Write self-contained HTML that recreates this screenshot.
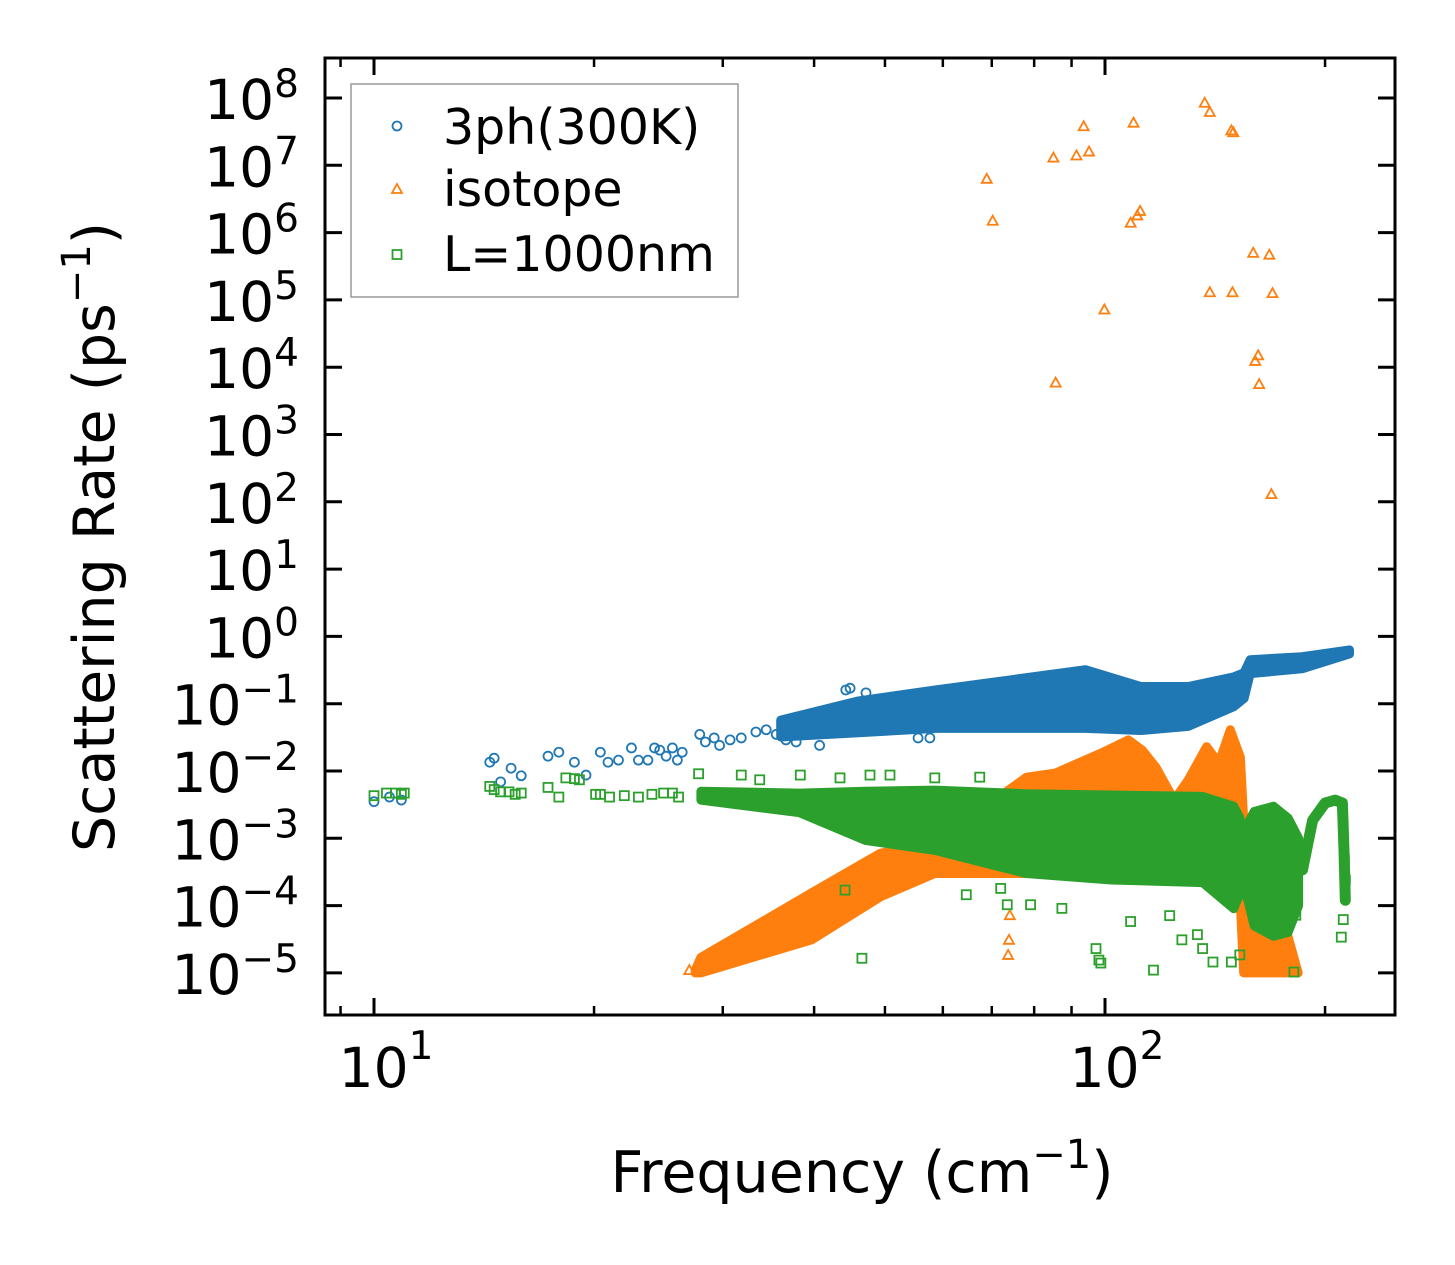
<!DOCTYPE html>
<html><head><meta charset="utf-8"><style>
html,body{margin:0;padding:0;background:#fff;}
svg{display:block;font-family:"DejaVu Sans","Liberation Sans",sans-serif;}
</style></head>
<body>
<svg id="chart" width="1455" height="1265" viewBox="0 0 1455 1265" xmlns="http://www.w3.org/2000/svg">
<rect width="1455" height="1265" fill="#fff"/>
<g id="marks"></g>
<g id="axes"></g>
<text x="862" y="1192" font-size="57" text-anchor="middle">Frequency (cm<tspan font-size="40" dy="-24">−1</tspan><tspan dy="24">)</tspan></text>
<text transform="translate(114,537) rotate(-90)" font-size="57" text-anchor="middle">Scattering Rate (ps<tspan font-size="40" dy="-24">−1</tspan><tspan dy="24">)</tspan></text>
<g>
<rect x="351" y="84" width="387" height="213" fill="#fff" stroke="#999" stroke-width="1.5"/>
<circle cx="397" cy="126" r="4.5" fill="none" stroke="#1f77b4" stroke-width="1.8"/>
<text x="443" y="144" font-size="49">3ph(300K)</text>
<path d="M397,184 L402,193 L392,193 Z" fill="none" stroke="#ff7f0e" stroke-width="1.8"/>
<text x="443" y="206" font-size="49">isotope</text>
<rect x="392.5" y="250" width="9" height="9" fill="none" stroke="#2ca02c" stroke-width="1.8"/>
<text x="443" y="271" font-size="49">L=1000nm</text>
</g>
</svg>
<script>
// ---- data (frequency in cm^-1, rate in ps^-1) ----
const blueBandFreq  = [36, 46, 58.6, 75, 94, 112, 130, 150, 155, 158, 186, 216];
const blueBandHigh  = [0.057, 0.11, 0.16, 0.23, 0.32, 0.18, 0.18, 0.25, 0.29, 0.45, 0.5, 0.63];
const blueBandLow   = [0.032, 0.037, 0.043, 0.043, 0.043, 0.04, 0.046, 0.09, 0.12, 0.28, 0.33, 0.55];
const bluePtFreq = [10,10.5,10.9,14.4,14.6,14.9,15.4,15.9,17.3,17.9,18.8,19.5,20.4,20.9,21.6,22.5,23.0,23.7,24.2,24.6,25.1,25.6,26.0,26.4,27.9,28.4,29.2,29.7,30.7,31.8,33.3,34.4,35.5,36.6,37.8,39.0,40.7,44.2,44.8,47.1,50.5,55.5,57.6];
const bluePtRate = [3.5e-3,4.1e-3,3.7e-3,0.0135,0.0155,6.9e-3,0.011,8.5e-3,0.0166,0.019,0.0135,8.7e-3,0.019,0.0135,0.0145,0.022,0.0145,0.0145,0.022,0.0204,0.0166,0.022,0.0145,0.019,0.035,0.027,0.031,0.024,0.029,0.031,0.038,0.041,0.035,0.029,0.027,0.05,0.024,0.16,0.17,0.145,0.075,0.031,0.031];

const orangeBandFreq = [27.5, 28, 39.7, 49.3, 58.5, 78.1, 85.5, 98.9, 107.6, 112.4, 117.4, 124.3, 130, 137.7, 143.1, 148.4, 153.2, 154.8, 159.9, 169.9, 176.9, 183.8];
const orangeBandHigh = [1.1e-5, 1.7e-5, 1.55e-4, 6.0e-4, 8.5e-4, 8.1e-3, 9.3e-3, 0.0186, 0.029, 0.0205, 0.0114, 3.7e-3, 7.4e-3, 0.023, 0.013, 0.041, 0.016, 1.85e-3, 5.5e-5, 9.5e-5, 4.4e-5, 1.0e-5];
const orangeBandLow  = [1.0e-5, 1.0e-5, 3.1e-5, 1.35e-4, 3.0e-4, 3.0e-4, 3.0e-4, 3.0e-4, 3.0e-4, 3.0e-4, 3.0e-4, 3.0e-4, 3.0e-4, 3.0e-4, 2.5e-4, 2.0e-4, 1.0e-4, 1.0e-5, 1.0e-5, 1.0e-5, 1.0e-5, 1.0e-5];
const orangePtFreq = [27.0,73.7,73.9,74.1,68.5,68.9,70.2,85.0,85.6,91.4,93.5,95.1,99.8,108.4,109.4,110.7,111.7,136.9,139.1,139.1,148.9,149.8,149.4,159.5,160.5,162,162.5,167.8,168.9,169.5];
const orangePtRate = [1.1e-5,1.85e-5,3.1e-5,7.2e-5,1.7e-3,6.3e6,1.5e6,1.3e7,5.9e3,1.4e7,3.8e7,1.6e7,7.2e4,1.4e6,4.3e7,1.8e6,2.1e6,8.5e7,6.2e7,1.3e5,3.3e7,3.1e7,1.3e5,5.0e5,1.24e4,1.5e4,5.6e3,4.7e5,1.3e2,1.26e5];

const greenBandFreq = [28, 38.2, 47, 58.5, 78, 102, 136, 150, 153];
const greenBandHigh = [5.0e-3, 4.7e-3, 5.0e-3, 5.2e-3, 4.6e-3, 4.4e-3, 4.2e-3, 3.0e-3, 2.0e-3];
const greenBandLow  = [3.7e-3, 2.4e-3, 9.3e-4, 6.6e-4, 3.0e-4, 2.4e-4, 2.2e-4, 9e-5, 1.5e-4];
const greenStripFreq = [156, 160, 170, 178, 184];
const greenStripHigh = [1.5e-3, 2.5e-3, 3.0e-3, 2.0e-3, 1.0e-3];
const greenStripLow  = [1.5e-4, 5e-5, 3.5e-5, 4e-5, 1e-4];
const greenArcFreq = [186.3, 192.3, 200, 206.4, 211.2, 212.5, 213.2];
const greenArcRate = [3.4e-4, 1.85e-3, 3.35e-3, 3.7e-3, 3.35e-3, 4.8e-4, 1.2e-4];
const greenPtFreq = [10,10.4,10.7,10.9,11.0,14.4,14.6,14.9,15.3,15.6,15.9,17.3,17.9,18.3,18.8,19.1,20.1,20.4,21.0,22.0,23.0,24.0,24.9,25.6,26.1,27.8,31.8,33.7,38.3,43.4,47.7,50.8,58.5,67.4,46.5,44.1,64.6,72.0,73.5,79.1,87.3,97.2,98.1,98.7,108.4,116.5,122.6,127.4,133.8,136.0,140.5,148.9,152.9,181.3,182.4,210.5,211.8,213.2,212.5];
const greenPtRate = [4.3e-3,4.7e-3,4.7e-3,4.5e-3,4.7e-3,5.9e-3,5.3e-3,4.9e-3,4.9e-3,4.5e-3,4.7e-3,5.7e-3,4.1e-3,7.9e-3,7.7e-3,7.4e-3,4.5e-3,4.5e-3,4.1e-3,4.3e-3,4.1e-3,4.5e-3,4.7e-3,4.7e-3,4.1e-3,9.1e-3,8.7e-3,7.4e-3,8.7e-3,7.9e-3,8.7e-3,8.7e-3,7.9e-3,8.1e-3,1.65e-5,1.7e-4,1.45e-4,1.8e-4,1.03e-4,1.03e-4,9.1e-5,2.3e-5,1.55e-5,1.4e-5,5.8e-5,1.1e-5,7.1e-5,3.1e-5,3.7e-5,2.3e-5,1.45e-5,1.45e-5,1.85e-5,1.03e-5,7.2e-5,3.4e-5,6.2e-5,2.4e-4,4.8e-4];

const yTickExp = [8,7,6,5,4,3,2,1,0,-1,-2,-3,-4,-5];
const xTickExp = [1,2];
const xMinorVals = [9,20,30,40,50,60,70,80,90,200];

// ---- axis functions ----
const X0=325, X1=1395, Y0=58, Y1=1015;
function xs(f){ return 374 + (Math.log10(f)-1)*731; }
function ys(v){ return 98 + (8-Math.log10(v))*67.3; }
const NS='http://www.w3.org/2000/svg';
const marks=document.getElementById('marks');
const axes=document.getElementById('axes');
function mk(tag,attrs,parent){ const e=document.createElementNS(NS,tag); for(const k in attrs) e.setAttribute(k,attrs[k]); parent.appendChild(e); return e; }

const clip=mk('clipPath',{id:'pc'},document.getElementById('chart'));
mk('rect',{x:X0,y:Y0,width:X1-X0,height:Y1-Y0},clip);
marks.setAttribute('clip-path','url(#pc)');

function band(fr,hi,lo,color,name){
  let pts=[];
  for(let i=0;i<fr.length;i++) pts.push(xs(fr[i]).toFixed(1)+','+ys(hi[i]).toFixed(1));
  for(let i=fr.length-1;i>=0;i--) pts.push(xs(fr[i]).toFixed(1)+','+ys(lo[i]).toFixed(1));
  const p=mk('polygon',{points:pts.join(' '),fill:color,stroke:color,'stroke-width':9,'stroke-linejoin':'round'},marks);
  
  
}
function circ(f,v,name){
  const c=mk('circle',{cx:xs(f),cy:ys(v),r:4.5,fill:'none',stroke:'#1f77b4','stroke-width':1.8},marks);
  
  
}
function tri(f,v,name){
  const x=xs(f), y=ys(v);
  const t=mk('path',{d:`M${x},${y-5} L${x+5},${y+4} L${x-5},${y+4} Z`,fill:'none',stroke:'#ff7f0e','stroke-width':1.8},marks);
  
  
}
function sq(f,v,name){
  const s=mk('rect',{x:xs(f)-4.5,y:ys(v)-4.5,width:9,height:9,fill:'none',stroke:'#2ca02c','stroke-width':1.8},marks);
  
  
}

band(blueBandFreq,blueBandHigh,blueBandLow,'#1f77b4','3ph-dense-band');
for(let i=0;i<bluePtFreq.length;i++) circ(bluePtFreq[i],bluePtRate[i],'3ph-point');
band(orangeBandFreq,orangeBandHigh,orangeBandLow,'#ff7f0e','isotope-dense-band');
for(let i=0;i<orangePtFreq.length;i++) tri(orangePtFreq[i],orangePtRate[i],'isotope-point');
band(greenBandFreq,greenBandHigh,greenBandLow,'#2ca02c','boundary-dense-band');
band(greenStripFreq,greenStripHigh,greenStripLow,'#2ca02c','boundary-dense-strip');
let arcPts=[];
for(let i=0;i<greenArcFreq.length;i++) arcPts.push(xs(greenArcFreq[i]).toFixed(1)+','+ys(greenArcRate[i]).toFixed(1));
const arc=mk('polyline',{points:arcPts.join(' '),fill:'none',stroke:'#2ca02c','stroke-width':11,'stroke-linejoin':'round','stroke-linecap':'round'},marks);


for(let i=0;i<greenPtFreq.length;i++) sq(greenPtFreq[i],greenPtRate[i],'boundary-point');

// ---- axes ----
const frame=mk('rect',{x:X0,y:Y0,width:X1-X0,height:Y1-Y0,fill:'none',stroke:'#000','stroke-width':3},axes);


yTickExp.forEach(e=>{
  const y=ys(Math.pow(10,e));
  const t1=mk('line',{x1:X0,x2:X0+17,y1:y,y2:y,stroke:'#000','stroke-width':3},axes);
  
  
  const t2=mk('line',{x1:X1,x2:X1-17,y1:y,y2:y,stroke:'#000','stroke-width':3},axes);
  
  
  const lab=mk('text',{x:299,y:y+21,'font-size':55,'text-anchor':'end'},axes);
  
  
  const a=document.createElementNS(NS,'tspan'); a.textContent='10'; lab.appendChild(a);
  const b=document.createElementNS(NS,'tspan'); b.setAttribute('font-size','39'); b.setAttribute('dy','-22'); b.textContent=(e<0?'−':'')+Math.abs(e); lab.appendChild(b);
});
xTickExp.forEach(e=>{
  const x=xs(Math.pow(10,e));
  const t1=mk('line',{x1:x,x2:x,y1:Y1,y2:Y1-17,stroke:'#000','stroke-width':3},axes);
  
  
  const t2=mk('line',{x1:x,x2:x,y1:Y0,y2:Y0+17,stroke:'#000','stroke-width':3},axes);
  
  
  const lab=mk('text',{x:x+12,y:1087,'font-size':55,'text-anchor':'middle'},axes);
  
  
  const a=document.createElementNS(NS,'tspan'); a.textContent='10'; lab.appendChild(a);
  const b=document.createElementNS(NS,'tspan'); b.setAttribute('font-size','39'); b.setAttribute('dy','-28'); b.textContent=String(e); lab.appendChild(b);
});
xMinorVals.forEach(v=>{
  const x=xs(v);
  const t1=mk('line',{x1:x,x2:x,y1:Y1,y2:Y1-9,stroke:'#000','stroke-width':2.5},axes);
  
  
  const t2=mk('line',{x1:x,x2:x,y1:Y0,y2:Y0+9,stroke:'#000','stroke-width':2.5},axes);
  
  
});
</script>
</body></html>
